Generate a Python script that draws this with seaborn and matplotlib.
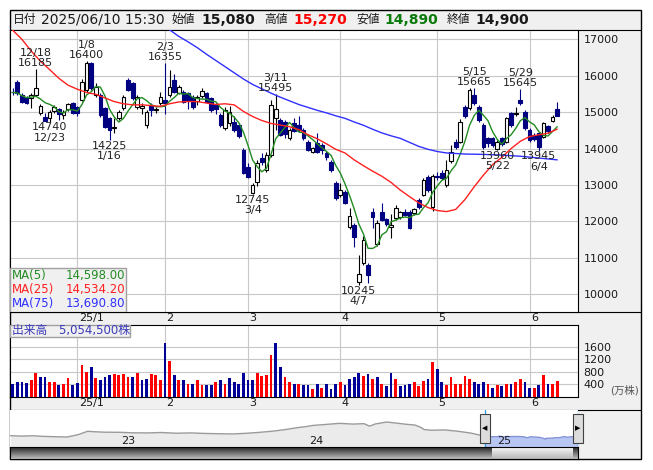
import numpy as np
import pandas as pd
import seaborn as sns
import matplotlib.pyplot as plt
from matplotlib.patches import Rectangle

# trading days shown (TSE calendar, 2024-12-11 .. 2025-06-10)
holidays = ["2024-12-31", "2025-01-01", "2025-01-02", "2025-01-03", "2025-01-13",
            "2025-02-11", "2025-02-24", "2025-03-20", "2025-04-29", "2025-05-05", "2025-05-06"]
days = pd.bdate_range("2024-12-11", "2025-06-10")
days = days[~days.isin(pd.to_datetime(holidays))]

opens = [15560, 15840, 15470, 15420, 15380, 15470, 14990, 14860, 14830, 15020, 15080, 14930, 15080, 15260,
         15150, 15335, 15610, 16340, 15470, 15470, 15105, 14830, 14560, 14830, 15105, 15880, 15790, 15150,
         15105, 14650, 15195, 15060, 15240, 15330, 15470, 15880, 15535, 15560, 15520, 15425, 15315, 15445,
         15518, 15380, 15200, 14920, 14557, 14700, 14740, 14650, 13950, 13500, 12780, 13090, 13740, 13400,
         13820, 14830, 14785, 14740, 14280, 14700, 14650, 14510, 14190, 13915, 14145, 14100, 13870, 13640,
         13050, 12725, 12815, 11860, 11900, 10330, 10870, 10800, 12270, 11380, 12270, 12060, 11840, 12090,
         12110, 12250, 12270, 12220, 12590, 12730, 13230, 12400, 13260, 13320, 12990, 13670, 14190, 14190,
         15150, 15105, 15470, 15150, 14650, 14280, 14280, 13990, 14280, 14190, 14970, 14950, 15335, 15013,
         14510, 14370, 14420, 14330, 14620, 14770, 15080]
highs = [15660, 15880, 15520, 15450, 15520, 16185, 15220, 14990, 15060, 15200, 15120, 15060, 15260, 15290,
         15160, 15900, 16400, 16380, 15800, 15520, 15150, 14880, 14830, 15060, 15470, 15950, 15830, 15470,
         15240, 15060, 15240, 15150, 15560, 16355, 16160, 16050, 15750, 15610, 15560, 15470, 15470, 15650,
         15560, 15420, 15240, 14990, 15150, 15180, 14900, 14700, 14010, 13600, 13050, 13700, 13870, 13900,
         15330, 15495, 14830, 14780, 14560, 14830, 14895, 14560, 14240, 14050, 14420, 14150, 13920, 13700,
         13100, 13050, 12860, 12370, 11950, 11080, 11600, 10870, 12370, 12050, 12500, 12100, 12200, 12450,
         12300, 12330, 12320, 12380, 12640, 13200, 13280, 13300, 13350, 13400, 13700, 14100, 14250, 14800,
         15200, 15650, 15665, 15200, 14700, 14330, 14330, 14240, 14330, 14880, 15010, 15150, 15645, 15060,
         14560, 14420, 14460, 14740, 14650, 14920, 15270]
lows = [15470, 15480, 15260, 15220, 15110, 15440, 14920, 14750, 14740, 14980, 14790, 14800, 15020, 14960,
        14900, 15300, 15560, 15600, 15420, 14880, 14560, 14225, 14420, 14780, 15060, 15580, 15330, 15100,
        14950, 14560, 14900, 14980, 15200, 14960, 15420, 15520, 15500, 15240, 15100, 15100, 15200, 15400,
        15240, 15010, 14950, 14600, 14500, 14620, 14460, 14300, 13300, 13180, 12745, 12980, 13560, 13350,
        13780, 14510, 14340, 14300, 14230, 14450, 14450, 14230, 13920, 13870, 13870, 13850, 13700, 13370,
        12590, 12680, 12470, 11800, 11307, 10245, 10800, 10300, 11820, 11330, 12000, 11880, 11550, 12050,
        12080, 12150, 11780, 12180, 12350, 12700, 12820, 12300, 13150, 13150, 12950, 13600, 14000, 14150,
        14850, 15060, 15200, 14740, 14000, 14050, 14050, 13960, 14080, 14150, 14600, 14900, 15200, 14500,
        14190, 14200, 13945, 14280, 14440, 14720, 14890]
closes = [15540, 15520, 15290, 15240, 15470, 15650, 15170, 14770, 15010, 15150, 14960, 15000, 15220, 14990,
          14980, 15830, 16340, 15650, 15700, 14920, 14600, 14510, 14600, 15010, 15420, 15610, 15380, 15420,
          15170, 15010, 15060, 15080, 15420, 15240, 15700, 15560, 15680, 15290, 15330, 15150, 15420, 15590,
          15290, 15060, 15080, 14650, 15060, 15000, 14510, 14340, 13340, 13230, 13000, 13600, 13640, 13820,
          15200, 15100, 14380, 14400, 14510, 14490, 14500, 14280, 13960, 14010, 13910, 13960, 13770, 13410,
          12630, 12860, 12510, 12150, 11580, 10560, 11490, 10530, 12130, 11970, 12040, 11920, 11900, 12360,
          12250, 12180, 11820, 12330, 12400, 13140, 12860, 13250, 13210, 13180, 13410, 13910, 14050, 14740,
          14890, 15610, 15240, 14780, 14050, 14140, 14100, 14190, 14120, 14830, 14650, 14980, 15240, 14560,
          14230, 14260, 14050, 14700, 14490, 14860, 14900]
# volume in 万株
volume = [431, 485, 485, 453, 540, 759, 627, 627, 464, 485, 377, 431, 595, 399,
          453, 1030, 813, 954, 595, 540, 627, 693, 726, 693, 726, 627, 627, 759, 540, 562, 726, 693, 540,
          1738, 1140, 693, 540, 540, 431, 410, 540, 377, 399, 377, 464, 540, 431, 595, 485, 431, 759,
          540, 540, 759, 660, 693, 1357, 1738, 954, 627, 464, 410, 431, 377, 377, 268, 431, 301, 410,
          268, 431, 485, 377, 562, 627, 780, 672, 726, 562, 627, 431, 345, 780, 562, 345, 377, 431, 464,
          345, 508, 562, 1118, 889, 485, 377, 627, 431, 431, 672, 562, 464, 431, 464, 431, 301, 377, 345,
          431, 410, 464, 562, 464, 301, 301, 377, 693, 431, 431, 505.45]

# moving averages (day index -> value)
ma25_idx = list(range(0, 117, 2)) + [118]
ma25_val = [17250, 17000, 16680, 16400, 16170, 15930, 15740, 15630, 15540, 15490, 15390, 15290, 15230,
            15200, 15200, 15180, 15160, 15230, 15280, 15290, 15290, 15250, 15210, 15230, 15200, 15020,
            14880, 14770, 14690, 14645, 14600, 14520, 14380, 14270, 14130, 13980, 13880, 13690, 13530,
            13380, 13240, 13070, 12860, 12680, 12510, 12380, 12300, 12270, 12330, 12600, 12950, 13270,
            13560, 13760, 14000, 14200, 14330, 14380, 14420, 14534.2]
ma75_idx = [34, 36, 38, 40, 42, 44, 46, 48, 50, 52, 54, 56, 58, 60, 62, 64, 66, 68, 70, 72, 74, 76, 78,
            80, 82, 84, 86, 88, 90, 92, 94, 98, 102, 106, 110, 114, 118]
ma75_val = [17260, 17080, 16930, 16770, 16590, 16420, 16250, 16080, 15910, 15760, 15640, 15520, 15410,
            15310, 15210, 15130, 15050, 14980, 14900, 14830, 14730, 14640, 14530, 14430, 14350, 14280,
            14170, 14060, 13980, 13920, 13880, 13850, 13840, 13820, 13790, 13740, 13690.8]
ma_names = ["MA(5)", "MA(25)", "MA(75)"]
ma_last = [14598.00, 14534.20, 13690.80]
last_volume_shares = 5054500

peak_days = ["2024-12-18", "2025-01-08", "2025-02-03", "2025-03-11", "2025-05-15", "2025-05-29"]
trough_days = ["2024-12-23", "2025-01-16", "2025-03-04", "2025-04-07", "2025-05-22", "2025-06-04"]

# overview navigator (history before the shown window)
nav_t = [2022.42, 2022.48, 2022.54, 2022.60, 2022.66, 2022.72, 2022.78, 2022.83, 2022.86, 2022.92,
         2023.00, 2023.07, 2023.15, 2023.22, 2023.30, 2023.38, 2023.45, 2023.53, 2023.60, 2023.67,
         2023.74, 2023.81, 2023.88, 2023.94, 2023.99, 2024.03, 2024.10, 2024.17, 2024.24, 2024.30,
         2024.33, 2024.36, 2024.42, 2024.47, 2024.53, 2024.57, 2024.60, 2024.62, 2024.66, 2024.73,
         2024.80, 2024.87, 2024.93]
nav_p = [17000, 16200, 16800, 15600, 15000, 14400, 19000, 25600, 24800, 23800, 23600, 22600, 22400,
         23200, 21800, 22400, 21400, 20800, 20400, 21600, 23400, 25600, 28800, 32400, 34600, 37000,
         39000, 41000, 39600, 40400, 35600, 39800, 43600, 41600, 39000, 37800, 33600, 29000, 27600,
         28200, 25600, 22000, 17000]

# ---- figure ----
sns.set_theme(style="white")
plt.rcParams["font.family"] = ["DejaVu Sans", "Noto Sans CJK JP"]

W, H = 653, 470
fig = plt.figure(figsize=(W / 100, H / 100), dpi=100)


def px_axes(x0, y0, x1, y1):
    return fig.add_axes([x0 / W, 1 - y1 / H, (x1 - x0) / W, (y1 - y0) / H])


n = len(days)
x = np.arange(n)
o, h, l, c = map(np.array, (opens, highs, lows, closes))
up = c >= o
navy = "#000080"
grid_c = "#c8c8c8"
txt_c = "#1a1a1a"

bg = px_axes(0, 0, W, H)
bg.set_xlim(0, W)
bg.set_ylim(H, 0)
bg.axis("off")
bg.add_patch(Rectangle((10, 10), 631, 449, fc="#f0f0f0", ec="black", lw=1))
for yy in (29.5, 312, 410):
    bg.plot([10, 641], [yy, yy], color="black", lw=0.8)

# header
head = [("日付", 13, txt_c, "normal", 8.5), ("2025/06/10 15:30", 41, txt_c, "normal", 10),
        ("始値", 172, txt_c, "normal", 8.5), (f"{opens[-1]:,}", 201, txt_c, "bold", 10),
        ("高値", 264, txt_c, "normal", 8.5), (f"{highs[-1]:,}", 293, "#ff0000", "bold", 10),
        ("安値", 356, txt_c, "normal", 8.5), (f"{lows[-1]:,}", 384, "#0a7a0a", "bold", 10),
        ("終値", 447, txt_c, "normal", 8.5), (f"{closes[-1]:,}", 475, txt_c, "bold", 10)]
for s, hx, col, fw, fs in head:
    bg.text(hx, 19.5, s, color=col, fontweight=fw, fontsize=fs, va="center", ha="left")

# ---- price panel ----
ax = px_axes(10, 30, 578, 312)
ax.set_facecolor("white")
xlim = (-0.58, 122.5)
month_start = [i for i in range(1, n) if days[i].month != days[i - 1].month]
month_lab = ["25/1" if days[i].month == 1 else str(days[i].month) for i in month_start]

ax.vlines(x, l, h, colors=np.where(up, "black", navy), lw=0.8, zorder=2)
ax.bar(x, np.abs(c - o), bottom=np.minimum(o, c), width=0.8,
       color=np.where(up, "white", navy), edgecolor=np.where(up, "black", navy), lw=0.8, zorder=3)

ma5 = pd.Series(closes).rolling(5, min_periods=1).mean()
sns.lineplot(x=x, y=ma5, ax=ax, color="#228b22", lw=1, zorder=4, legend=False)
sns.lineplot(x=ma25_idx, y=ma25_val, ax=ax, color="#ff2020", lw=1, zorder=4, legend=False)
sns.lineplot(x=ma75_idx, y=ma75_val, ax=ax, color="#3030ff", lw=1, zorder=4, legend=False)

ax.set_xlim(*xlim)
ax.set_ylim(9514, 17255)
ax.set_yticks(range(10000, 17001, 1000))
ax.set_xticks(month_start)
ax.set_xticklabels([])
ax.grid(True, color=grid_c, lw=0.8)
ax.set_axisbelow(True)
ax.tick_params(axis="y", left=False, right=True, labelleft=False, labelright=True,
               length=0, pad=4, labelsize=8, labelcolor=txt_c)
ax.tick_params(axis="x", length=0)
ax.set_xlabel("")
ax.set_ylabel("")
for sp in ax.spines.values():
    sp.set_color("black")
    sp.set_linewidth(0.8)

for d in peak_days:
    i = days.get_loc(pd.Timestamp(d))
    ax.annotate(f"{days[i].month}/{days[i].day}\n{highs[i]}", (i, highs[i]), xytext=(0, 0.5),
                textcoords="offset points", ha="center", va="bottom", fontsize=8,
                linespacing=1.05, color="#222222", zorder=6)
for d in trough_days:
    i = days.get_loc(pd.Timestamp(d))
    ax.annotate(f"{lows[i]}\n{days[i].month}/{days[i].day}", (i, lows[i]), xytext=(0, -0.5),
                textcoords="offset points", ha="center", va="top", fontsize=8,
                linespacing=1.05, color="#222222", zorder=6)

# MA legend box
ax.add_patch(Rectangle((0, 0), 0.2042, 0.156, transform=ax.transAxes, fc="#f0f0f0",
                       ec="#a0a0a0", lw=1, zorder=7))
for k, (nm, val, col) in enumerate(zip(ma_names, ma_last, ["#228b22", "#ff2020", "#3030ff"])):
    yy = 0.131 - k * 0.0496
    ax.text(0.004, yy, nm, transform=ax.transAxes, color=col, fontsize=8.5, va="center", zorder=8)
    ax.text(0.2025, yy, f"{val:,.2f}", transform=ax.transAxes, color=col, fontsize=8.5,
            va="center", ha="right", zorder=8)

for i, lab in zip(month_start, month_lab):
    ax.text(i + 0.3, -0.022, lab, transform=ax.get_xaxis_transform(), ha="left", va="center",
            fontsize=8, color=txt_c)

# ---- volume panel ----
vol = px_axes(10, 325, 578, 397)
vol.set_facecolor("white")
prev = np.r_[np.inf, c[:-1]]
vcol = np.where(c >= prev, "#ff0000", "#000099")
vol.bar(x, volume, width=0.6, color=vcol, lw=0, zorder=3)
vol.set_xlim(*xlim)
vol.set_ylim(0, 2300)
vol.set_yticks([400, 800, 1200, 1600])
vol.set_xticks(month_start)
vol.set_xticklabels([])
vol.grid(True, color=grid_c, lw=0.8)
vol.set_axisbelow(True)
vol.tick_params(axis="y", left=False, right=True, labelleft=False, labelright=True,
                length=0, pad=4, labelsize=8, labelcolor=txt_c)
vol.tick_params(axis="x", length=0)
for sp in vol.spines.values():
    sp.set_color("black")
    sp.set_linewidth(0.8)
vol.add_patch(Rectangle((0, 0.833), 0.211, 0.167, transform=vol.transAxes, fc="#f0f0f0",
                        ec="#a0a0a0", lw=1, zorder=7))
vol.text(0.004, 0.917, f"出来高　{last_volume_shares:,}株", transform=vol.transAxes,
         color="#3a3ab8", fontsize=8.5, va="center", zorder=8)
vol.text(1.108, 0.09, "(万株)", transform=vol.transAxes, color="#555555", fontsize=7.5,
         ha="right", va="center")
for i, lab in zip(month_start, month_lab):
    vol.text(i + 0.3, -0.085, lab, transform=vol.get_xaxis_transform(), ha="left", va="center",
             fontsize=8, color=txt_c)

# ---- navigator ----
def year_frac(d):
    return d.year + (d.dayofyear - 1) / (366 if d.is_leap_year else 365)


day_t = [year_frac(d) for d in days]
t1 = day_t[-1]
t0 = t1 - 568 / 188
nav = px_axes(10, 410, 578, 447)
nav.set_facecolor("white")
nav.fill_between(nav_t + day_t[:1], nav_p + closes[:1], -5000, color="#ebebeb", lw=0)
sns.lineplot(x=nav_t + day_t[:1], y=nav_p + closes[:1], ax=nav, color="#9a9a9a", lw=1, legend=False)
nav.fill_between(day_t, closes, -5000, color="#b8c6f4", lw=0)
sns.lineplot(x=day_t, y=closes, ax=nav, color="#8492d8", lw=1, legend=False)
nav.set_xlim(t0, t1)
nav.set_ylim(-5000, 67000)
nav.set_xticks([])
nav.set_yticks([])
nav.set_xlabel("")
nav.set_ylabel("")
for sp in nav.spines.values():
    sp.set_visible(False)
for yr in (2023, 2024, 2025):
    nav.text(yr + 0.01, 0.16, str(yr % 100), transform=nav.get_xaxis_transform(), fontsize=8,
             color=txt_c, va="center", ha="left")
hw = 5 / 188
for tt, mk in ((day_t[0], "◀"), (t1, "▶")):
    nav.axvline(tt, color="#30a0e0", lw=1)
    nav.add_patch(Rectangle((tt - hw, 0.12), 2 * hw, 0.76, transform=nav.get_xaxis_transform(),
                            fc="#dcdcdc", ec="#404040", lw=0.8, clip_on=False, zorder=5))
    nav.text(tt, 0.5, mk, transform=nav.get_xaxis_transform(), fontsize=5, ha="center",
             va="center", color="black", clip_on=False, zorder=6)

# scroll bar
sb = px_axes(10, 447, 578, 459)
sb.imshow(np.linspace(0.15, 0.75, 24).reshape(-1, 1), aspect="auto", cmap="gray", vmin=0, vmax=1,
          extent=[t0, t1, 0, 1])
sb.imshow(np.linspace(0.97, 0.72, 24).reshape(-1, 1), aspect="auto", cmap="gray", vmin=0, vmax=1,
          extent=[day_t[0] + 1.5 * hw, t1 - hw, 0, 1])
sb.set_xlim(t0, t1)
sb.set_ylim(0, 1)
sb.set_xticks([])
sb.set_yticks([])
for sp in sb.spines.values():
    sp.set_color("black")
    sp.set_linewidth(0.8)

fig.savefig("out.png", dpi=100)
